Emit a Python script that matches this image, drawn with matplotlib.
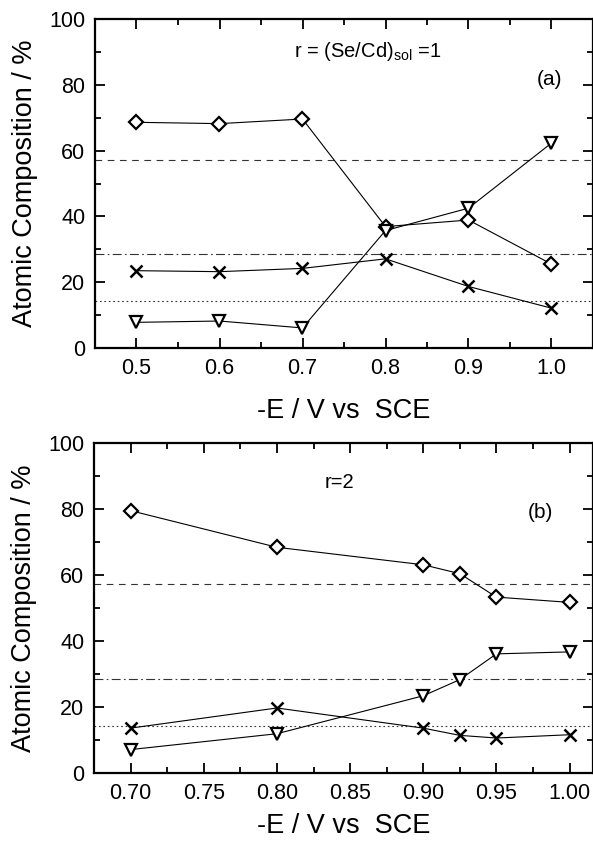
import matplotlib
matplotlib.use("Agg")
import matplotlib.pyplot as plt
from matplotlib.ticker import MultipleLocator

plt.rcParams["font.family"] = ["Liberation Sans", "DejaVu Sans"]
plt.rcParams["mathtext.fontset"] = "custom"
plt.rcParams["mathtext.rm"] = "Liberation Sans"

# panel (a): r = 1
e_a = [0.5, 0.6, 0.7, 0.8, 0.9, 1.0]
diamond_a = [68.6, 68.2, 69.6, 36.9, 38.9, 25.5]
triangle_a = [7.8, 8.2, 6.1, 35.7, 42.5, 62.3]
cross_a = [23.5, 23.2, 24.2, 27.1, 18.7, 12.1]

# panel (b): r = 2
e_b = [0.70, 0.80, 0.90, 0.925, 0.95, 1.00]
diamond_b = [79.5, 68.4, 63.1, 60.4, 53.3, 51.7]
triangle_b = [7.1, 11.9, 23.4, 28.3, 36.1, 36.7]
cross_b = [13.6, 19.7, 13.6, 11.4, 10.6, 11.6]

# stoichiometric reference levels
ref_levels = [400 / 7, 200 / 7, 100 / 7]
ref_styles = [(0, (6, 5)), (0, (8, 3, 1.5, 3)), (0, (1.5, 2.5))]

fig = plt.figure(figsize=(5.93, 8.43), dpi=100)
ax_a = fig.add_axes([95 / 593, 1 - 348 / 843, 498 / 593, 329 / 843])
ax_b = fig.add_axes([94 / 593, 1 - 773 / 843, 499 / 593, 330 / 843])


def draw_panel(ax, e, dia, tri, crs, xlim, major, minor, fmt, xpad):
    for lvl, ls in zip(ref_levels, ref_styles):
        ax.axhline(lvl, color="#333333", lw=0.8, ls=ls, zorder=1)
    kw = dict(color="black", lw=0.8, mfc="white", mec="black", mew=1.6, zorder=3)
    ax.plot(e, dia, marker="D", ms=7, **kw)
    ax.plot(e, tri, marker="v", ms=9, **kw)
    ax.plot(e, crs, marker="x", ms=8, color="black", lw=0.8, mew=1.8, zorder=3)
    ax.set_xlim(*xlim)
    ax.set_ylim(0, 100)
    ax.xaxis.set_major_locator(MultipleLocator(major))
    ax.xaxis.set_minor_locator(MultipleLocator(minor))
    ax.yaxis.set_major_locator(MultipleLocator(20))
    ax.yaxis.set_minor_locator(MultipleLocator(10))
    ax.xaxis.set_major_formatter(fmt)
    ax.tick_params(which="both", direction="in", top=True, right=True, width=1.3,
                   labelsize=15.5, pad=7)
    ax.tick_params(which="major", length=7)
    ax.tick_params(which="minor", length=4)
    for s in ax.spines.values():
        s.set_linewidth(1.6)
    ax.set_xlabel("-E / V vs  SCE", fontsize=19.5, labelpad=xpad)
    ax.set_ylabel("Atomic Composition / %", fontsize=19.5, labelpad=8)


draw_panel(ax_a, e_a, diamond_a, triangle_a, cross_a, (0.45, 1.05), 0.1, 0.05, "{x:.1f}", 14)
draw_panel(ax_b, e_b, diamond_b, triangle_b, cross_b, (0.675, 1.016), 0.05, 0.025, "{x:.2f}", 7)

ax_a.text(0.69, 90, r"r = (Se/Cd)$_{\mathrm{sol}}$ =1", fontsize=14.5, va="center")
ax_a.text(0.998, 81.5, "(a)", fontsize=15, ha="center", va="center")
ax_b.text(0.843, 88, "r=2", fontsize=14.5, ha="center", va="center")
ax_b.text(0.98, 79, "(b)", fontsize=15, ha="center", va="center")

fig.savefig("out.png", dpi=100)
